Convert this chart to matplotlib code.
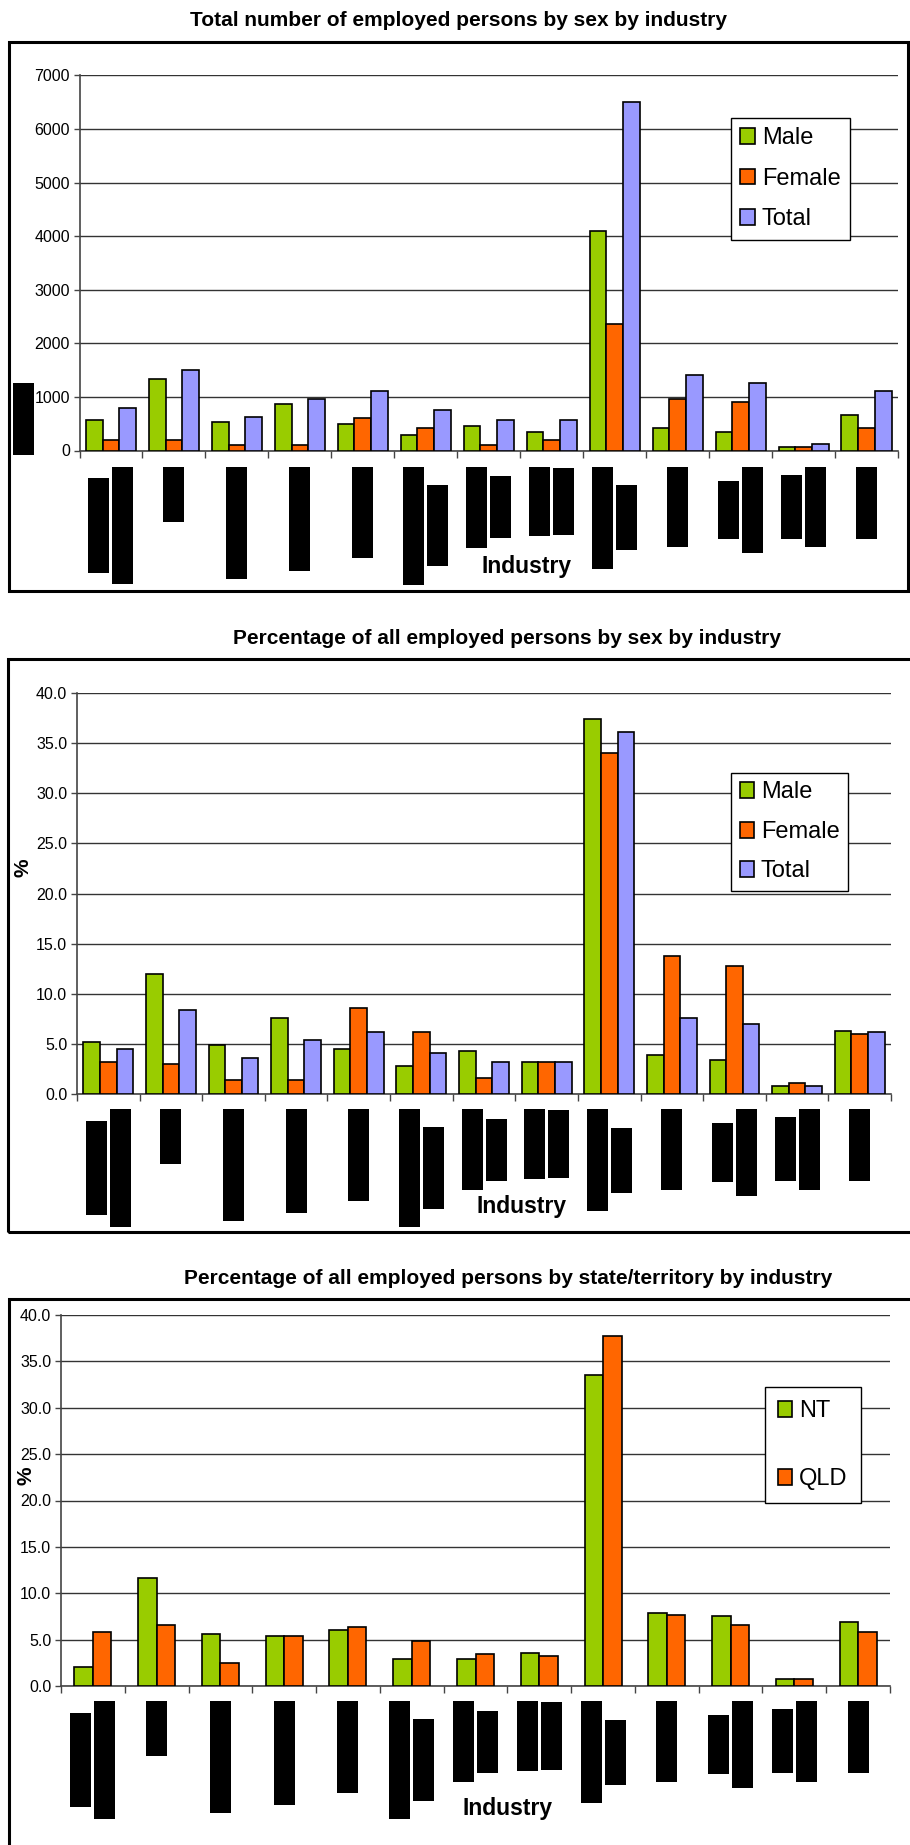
"""
Employment by industry: counts and shares by sex, and NT vs QLD shares.
Three stacked bar-chart panels in one tall figure.
"""

import matplotlib

matplotlib.use("Agg")
import matplotlib.pyplot as plt
from matplotlib.patches import Rectangle
from matplotlib.ticker import FuncFormatter, MultipleLocator
import numpy as np

plt.rcParams["font.family"] = ["Liberation Sans", "DejaVu Sans"]

FIG_W, FIG_H, DPI = 910, 1845, 100

# category labels (rotated, shown blacked out as in the source scan)
INDUSTRY_LINES = [
    ("Agricultural,", "forestry, fishing"),
    ("Mining",),
    ("Manufacturing",),
    ("Construction,",),
    ("Retail trade",),
    ("Hotels, cafes &", "restaurant"),
    ("Transport,", "storage"),
    ("Finance,", "property"),
    ("Government,", "defence"),
    ("Education",),
    ("Health,", "community"),
    ("Cultural", "recreation"),
    ("Personal",),
]
COUNT_AXIS_LABEL = "Workers,"

MALE_COUNT = [570, 1340, 530, 860, 490, 280, 460, 350, 4100, 420, 350, 70, 670]
FEMALE_COUNT = [200, 200, 100, 100, 600, 420, 100, 200, 2370, 970, 900, 70, 420]
TOTAL_COUNT = [800, 1510, 630, 970, 1110, 750, 560, 560, 6500, 1400, 1260, 130, 1110]

MALE_PCT = [5.2, 12.0, 4.9, 7.6, 4.5, 2.8, 4.3, 3.2, 37.4, 3.9, 3.4, 0.8, 6.3]
FEMALE_PCT = [3.2, 3.0, 1.4, 1.4, 8.6, 6.2, 1.6, 3.2, 34.0, 13.8, 12.8, 1.1, 6.0]
TOTAL_PCT = [4.5, 8.4, 3.6, 5.4, 6.2, 4.1, 3.2, 3.2, 36.1, 7.6, 7.0, 0.8, 6.2]

NT_PCT = [2.1, 11.6, 5.6, 5.4, 6.0, 2.9, 2.9, 3.6, 33.5, 7.9, 7.5, 0.8, 6.9]
QLD_PCT = [5.8, 6.6, 2.5, 5.4, 6.4, 4.8, 3.4, 3.2, 37.7, 7.7, 6.6, 0.8, 5.8]

GREEN = "#99CC00"
ORANGE = "#FF6600"
LAVENDER = "#9999FF"

LABEL_SIZE = 12
REDACT = dict(boxstyle="square,pad=0.18", fc="black", ec="black", lw=0)


def px_rect(x0, y0, x1, y1):
    """pixel box (top-left origin) -> figure fraction [l, b, w, h]"""
    return [x0 / FIG_W, 1 - y1 / FIG_H, (x1 - x0) / FIG_W, (y1 - y0) / FIG_H]


def style_axes(ax, ymax, step, fmt):
    ax.set_xlim(-0.5, len(INDUSTRY_LINES) - 0.5)
    ax.set_ylim(0, ymax)
    ax.yaxis.set_major_locator(MultipleLocator(step))
    ax.yaxis.set_major_formatter(FuncFormatter(fmt))
    ax.set_xticks([])
    ax.set_xticks(np.arange(-0.5, len(INDUSTRY_LINES)), minor=True)
    ax.tick_params(axis="x", which="minor", direction="out", length=5, width=1, color="#444444")
    ax.tick_params(axis="y", direction="out", length=4, width=1, labelsize=11.5, pad=3, color="#444444")
    for side in ("top", "right"):
        ax.spines[side].set_visible(False)
    for side in ("left", "bottom"):
        ax.spines[side].set_color("#444444")
        ax.spines[side].set_linewidth(1.2)
    ax.yaxis.grid(True, color="#333333", linewidth=1)
    ax.set_axisbelow(True)


def draw_bars(ax, series, width):
    x = np.arange(len(INDUSTRY_LINES))
    n = len(series)
    handles = []
    for k, (values, color, label) in enumerate(series):
        off = (k - (n - 1) / 2) * width
        bars = ax.bar(x + off, values, width, color=color, edgecolor="black",
                      linewidth=1.2, label=label, zorder=3)
        handles.append(bars)
    return handles


def add_category_labels(ax, top_gap=16):
    groups = []
    for i, lines in enumerate(INDUSTRY_LINES):
        n = len(lines)
        texts = []
        for j, line in enumerate(lines):
            dx = (j - (n - 1) / 2) * 24
            t = ax.annotate(
                line, xy=(i, 0), xycoords=("data", "axes fraction"),
                xytext=(dx, -top_gap), textcoords="offset pixels",
                rotation=90, ha="center", va="center", fontsize=LABEL_SIZE,
                color="black", annotation_clip=False, bbox=REDACT,
            )
            texts.append((t, dx))
        groups.append(texts)
    return groups, top_gap


def center_labels(fig, label_sets):
    # multi-line labels are centred on each other, longest line hangs from the axis
    fig.canvas.draw()
    renderer = fig.canvas.get_renderer()
    for groups, top_gap in label_sets:
        for texts in groups:
            lengths = [t.get_bbox_patch().get_window_extent(renderer).height for t, _ in texts]
            longest = max(lengths)
            for t, dx in texts:
                t.xyann = (dx, -(top_gap + longest / 2))


def add_legend(fig, handles, labels, x0, y0, fontsize, spacing, pad):
    leg = fig.legend(
        handles, labels, loc="upper left",
        bbox_to_anchor=(x0 / FIG_W, 1 - y0 / FIG_H), bbox_transform=fig.transFigure,
        fontsize=fontsize, frameon=True, fancybox=False, framealpha=1,
        edgecolor="black", handlelength=0.6, handleheight=0.65,
        handletextpad=0.3, labelspacing=spacing, borderpad=pad, borderaxespad=0,
    )
    leg.get_frame().set_linewidth(1)
    return leg


def frame_box(fig, x0, y0, x1, y1):
    l, b, w, h = px_rect(x0, y0, x1, y1)
    fig.add_artist(Rectangle((l, b), w, h, transform=fig.transFigure,
                             fill=False, edgecolor="black", linewidth=2.2))


def main():
    fig = plt.figure(figsize=(FIG_W / DPI, FIG_H / DPI), dpi=DPI)
    int_fmt = lambda v, _p=None: f"{v:.0f}"
    pct_fmt = lambda v, _p=None: f"{v:.1f}"
    label_sets = []

    # panel 1: counts by sex
    frame_box(fig, 9, 42, 908, 591)
    ax1 = fig.add_axes(px_rect(79.5, 75.4, 898, 450.5))
    style_axes(ax1, 7000, 1000, int_fmt)
    h1 = draw_bars(ax1, [(MALE_COUNT, GREEN, "Male"), (FEMALE_COUNT, ORANGE, "Female"),
                         (TOTAL_COUNT, LAVENDER, "Total")], 0.265)
    fig.text(459 / FIG_W, 1 - 21 / FIG_H, "Total number of employed persons by sex by industry",
             ha="center", va="center", fontsize=15, fontweight="bold")
    fig.text(527 / FIG_W, 1 - 566 / FIG_H, "Industry", ha="center", va="center",
             fontsize=16.5, fontweight="bold")
    ax1.text(-0.068, 0.084, COUNT_AXIS_LABEL, transform=ax1.transAxes, rotation=90,
             ha="center", va="center", fontsize=LABEL_SIZE, color="black", bbox=REDACT)
    add_legend(fig, h1, ["Male", "Female", "Total"], 731, 118, 17, 0.78, 0.4)
    label_sets.append(add_category_labels(ax1, 16))

    # panel 2: percentage by sex
    frame_box(fig, 7.5, 659, 915, 1232)
    ax2 = fig.add_axes(px_rect(77, 693, 891, 1094))
    style_axes(ax2, 40, 5, pct_fmt)
    h2 = draw_bars(ax2, [(MALE_PCT, GREEN, "Male"), (FEMALE_PCT, ORANGE, "Female"),
                         (TOTAL_PCT, LAVENDER, "Total")], 0.265)
    fig.text(507 / FIG_W, 1 - 639 / FIG_H, "Percentage of all employed persons by sex by industry",
             ha="center", va="center", fontsize=15, fontweight="bold")
    fig.text(522 / FIG_W, 1 - 1207 / FIG_H, "Industry", ha="center", va="center",
             fontsize=16.5, fontweight="bold")
    fig.text(23 / FIG_W, 1 - 868 / FIG_H, "%", ha="center", va="center", rotation=90,
             fontsize=15, fontweight="bold")
    add_legend(fig, h2, ["Male", "Female", "Total"], 731, 773, 17, 0.74, 0.36)
    label_sets.append(add_category_labels(ax2, 15))

    # panel 3: NT vs QLD
    frame_box(fig, 9, 1299, 915, 1860)
    ax3 = fig.add_axes(px_rect(61, 1315, 890, 1686))
    style_axes(ax3, 40, 5, pct_fmt)
    h3 = draw_bars(ax3, [(NT_PCT, GREEN, "NT"), (QLD_PCT, ORANGE, "QLD")], 0.29)
    fig.text(508 / FIG_W, 1 - 1279 / FIG_H,
             "Percentage of all employed persons by state/territory by industry",
             ha="center", va="center", fontsize=15, fontweight="bold")
    fig.text(508 / FIG_W, 1 - 1808 / FIG_H, "Industry", ha="center", va="center",
             fontsize=16.5, fontweight="bold")
    fig.text(26 / FIG_W, 1 - 1476 / FIG_H, "%", ha="center", va="center", rotation=90,
             fontsize=15, fontweight="bold")
    add_legend(fig, h3, ["NT", "QLD"], 765, 1387, 17, 1.95, 0.55)
    label_sets.append(add_category_labels(ax3, 15))

    center_labels(fig, label_sets)
    fig.savefig("out.png", dpi=DPI)
    plt.close(fig)


if __name__ == "__main__":
    main()
